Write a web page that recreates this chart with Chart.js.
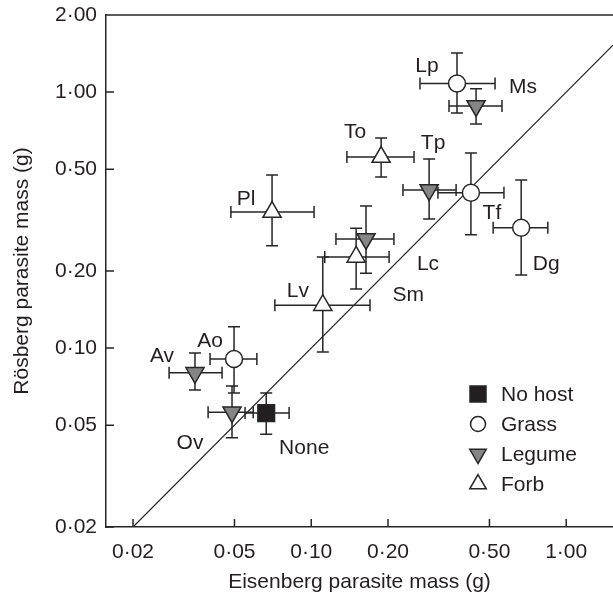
<!DOCTYPE html>
<html>
<head>
<meta charset="utf-8">
<script src="https://cdn.jsdelivr.net/npm/chart.js"></script>
<style>
  html, body { margin: 0; padding: 0; background: #fff; overflow: hidden; }
  #wrap { width: 613px; height: 599px; position: relative; }
  canvas { display: block; }
</style>
</head>
<body>
<div id="wrap"><canvas id="chart"></canvas></div>
<script>
const xTicks = [0.02, 0.05, 0.1, 0.2, 0.5, 1];
const yTicks = [0.02, 0.05, 0.1, 0.2, 0.5, 1, 2];

// no host
const noneNames = ['None'];
const noneX = [0.0666], noneXLo = [0.055], noneXHi = [0.0819];
const noneY = [0.0557], noneYLo = [0.0461], noneYHi = [0.0667];

// grasses
const grassNames = ['Lp', 'Tf', 'Dg', 'Ao'];
const grassX = [0.373, 0.423, 0.666, 0.0498];
const grassXLo = [0.267, 0.314, 0.517, 0.0401];
const grassXHi = [0.526, 0.570, 0.847, 0.0612];
const grassY = [1.08, 0.404, 0.295, 0.0906];
const grassYLo = [0.828, 0.277, 0.193, 0.0667];
const grassYHi = [1.42, 0.578, 0.453, 0.121];

// legumes
const legumeNames = ['Ms', 'Tp', 'Lc', 'Av', 'Ov'];
const legumeX = [0.443, 0.290, 0.164, 0.035, 0.0489];
const legumeXLo = [0.347, 0.229, 0.125, 0.0277, 0.0394];
const legumeXHi = [0.560, 0.370, 0.211, 0.0447, 0.0592];
const legumeY = [0.883, 0.414, 0.267, 0.080, 0.0562];
const legumeYLo = [0.75, 0.319, 0.196, 0.0686, 0.0446];
const legumeYHi = [1.03, 0.548, 0.359, 0.0957, 0.0711];

// forbs
const forbNames = ['To', 'Sm', 'Lv', 'Pl'];
const forbX = [0.188, 0.150, 0.111, 0.0702];
const forbXLo = [0.138, 0.113, 0.072, 0.0484];
const forbXHi = [0.253, 0.202, 0.170, 0.1026];
const forbY = [0.557, 0.227, 0.147, 0.340];
const forbYLo = [0.466, 0.170, 0.0966, 0.251];
const forbYHi = [0.662, 0.294, 0.227, 0.474];

// 1:1 line
const lineX = [0.02, 1.526];

// label placement, pixel offset from the point
const labelOffset = {
  None: [38, 34], Lp: [-30, -18], Tf: [21, 19], Dg: [25, 35], Ao: [-24, -19],
  Ms: [47, -20], Tp: [4, -48], Lc: [62, 24], Av: [-33, -18], Ov: [-42, 30],
  To: [-26, -26], Sm: [52, 37], Lv: [-25, -15], Pl: [-26, -14]
};

const FONT = '"Liberation Sans", Arial, Helvetica, sans-serif';
const dark = '#262626';
const gray = '#858585';

function points(names, x, xLo, xHi, y, yLo, yHi) {
  return names.map((n, i) => ({
    x: x[i], y: y[i], xMin: xLo[i], xMax: xHi[i], yMin: yLo[i], yMax: yHi[i], name: n
  }));
}

const fmt = v => Number(v).toFixed(2).replace('.', '\u00b7');

const errorBars = {
  id: 'errorBars',
  beforeDatasetsDraw(chart) {
    const { ctx, scales: { x, y } } = chart;
    const cap = 6;
    ctx.save();
    ctx.strokeStyle = dark;
    ctx.lineWidth = 1.5;
    chart.data.datasets.forEach(ds => {
      if (!ds.errors) return;
      ds.data.forEach(p => {
        const px = x.getPixelForValue(p.x), py = y.getPixelForValue(p.y);
        const x0 = x.getPixelForValue(p.xMin), x1 = x.getPixelForValue(p.xMax);
        const y0 = y.getPixelForValue(p.yMin), y1 = y.getPixelForValue(p.yMax);
        ctx.beginPath();
        ctx.moveTo(x0, py); ctx.lineTo(x1, py);
        ctx.moveTo(x0, py - cap); ctx.lineTo(x0, py + cap);
        ctx.moveTo(x1, py - cap); ctx.lineTo(x1, py + cap);
        ctx.moveTo(px, y0); ctx.lineTo(px, y1);
        ctx.moveTo(px - cap, y0); ctx.lineTo(px + cap, y0);
        ctx.moveTo(px - cap, y1); ctx.lineTo(px + cap, y1);
        ctx.stroke();
      });
    });
    ctx.restore();
  },
  afterDatasetsDraw(chart) {
    const { ctx, scales: { x, y } } = chart;
    ctx.save();
    ctx.fillStyle = '#231f20';
    ctx.font = '21px ' + FONT;
    ctx.textAlign = 'center';
    ctx.textBaseline = 'middle';
    chart.data.datasets.forEach(ds => {
      if (!ds.errors) return;
      ds.data.forEach(p => {
        const off = labelOffset[p.name] || [0, 0];
        ctx.fillText(p.name, x.getPixelForValue(p.x) + off[0], y.getPixelForValue(p.y) + off[1] + 1);
      });
    });
    ctx.restore();
  },
  afterDraw(chart) {
    const { ctx, chartArea: a, scales: { x, y } } = chart;
    ctx.save();
    ctx.strokeStyle = dark;
    ctx.lineWidth = 1.5;
    ctx.beginPath();
    ctx.moveTo(a.left, a.top); ctx.lineTo(a.right, a.top);
    xTicks.forEach(v => {
      const px = x.getPixelForValue(v);
      ctx.moveTo(px, a.bottom); ctx.lineTo(px, a.bottom - 8);
    });
    yTicks.forEach(v => {
      const py = y.getPixelForValue(v);
      ctx.moveTo(a.left, py); ctx.lineTo(a.left + 8, py);
    });
    ctx.stroke();

    // legend
    const items = [
      ['No host', 'rect', '#231f20'],
      ['Grass', 'circle', '#fff'],
      ['Legume', 'down', gray],
      ['Forb', 'up', '#fff']
    ];
    const lx = 478, ly = 394, step = 30;
    ctx.font = '21px ' + FONT;
    ctx.textAlign = 'left';
    ctx.textBaseline = 'middle';
    items.forEach((it, i) => {
      const cy = ly + i * step;
      ctx.beginPath();
      if (it[1] === 'rect') {
        ctx.rect(lx - 8, cy - 8, 16, 16);
      } else if (it[1] === 'circle') {
        ctx.arc(lx, cy, 7.5, 0, Math.PI * 2);
      } else {
        const s = it[1] === 'up' ? -1 : 1;
        const r = 9.5;
        ctx.moveTo(lx, cy + s * r);
        ctx.lineTo(lx + r * 0.866, cy - s * r * 0.5);
        ctx.lineTo(lx - r * 0.866, cy - s * r * 0.5);
        ctx.closePath();
      }
      ctx.fillStyle = it[2];
      ctx.fill();
      ctx.lineWidth = 1.5;
      ctx.strokeStyle = dark;
      ctx.stroke();
      ctx.fillStyle = '#231f20';
      ctx.fillText(it[0], 501, cy + 1);
    });
    ctx.restore();
  }
};

const markerBase = { borderColor: dark, borderWidth: 1.5, showLine: false, errors: true };

new Chart(document.getElementById('chart'), {
  type: 'scatter',
  data: {
    datasets: [
      Object.assign({}, markerBase, {
        label: 'No host',
        data: points(noneNames, noneX, noneXLo, noneXHi, noneY, noneYLo, noneYHi),
        pointStyle: 'rect', pointRadius: 11.8, backgroundColor: '#231f20', order: 1
      }),
      Object.assign({}, markerBase, {
        label: 'Grass',
        data: points(grassNames, grassX, grassXLo, grassXHi, grassY, grassYLo, grassYHi),
        pointStyle: 'circle', pointRadius: 8.5, backgroundColor: '#fff', order: 1
      }),
      Object.assign({}, markerBase, {
        label: 'Legume',
        data: points(legumeNames, legumeX, legumeXLo, legumeXHi, legumeY, legumeYLo, legumeYHi),
        pointStyle: 'triangle', pointRotation: 180, pointRadius: 10.5, backgroundColor: gray, order: 1
      }),
      Object.assign({}, markerBase, {
        label: 'Forb',
        data: points(forbNames, forbX, forbXLo, forbXHi, forbY, forbYLo, forbYHi),
        pointStyle: 'triangle', pointRadius: 10.5, backgroundColor: '#fff', order: 1
      }),
      {
        type: 'line',
        label: '1:1',
        data: lineX.map(v => ({ x: v, y: v })),
        borderColor: dark, borderWidth: 1.2, pointRadius: 0, fill: false, order: 10
      }
    ]
  },
  options: {
    responsive: true,
    maintainAspectRatio: false,
    animation: false,
    layout: { autoPadding: false, padding: { left: 0, right: 0, top: 15, bottom: 0 } },
    plugins: { legend: { display: false }, tooltip: { enabled: false } },
    scales: {
      x: {
        type: 'logarithmic',
        min: 0.01567, max: 1.526,
        afterBuildTicks: s => { s.ticks = xTicks.map(v => ({ value: v })); },
        afterFit: s => { s.height = 72; s.paddingLeft = 0; s.paddingRight = 0; },
        grid: { display: false, drawTicks: false },
        border: { display: true, color: dark, width: 1.5 },
        ticks: {
          autoSkip: false, maxRotation: 0, padding: 13,
          color: '#231f20', font: { family: FONT, size: 21 },
          callback: v => fmt(v)
        },
        title: {
          display: true, text: 'Eisenberg parasite mass (g)', color: '#231f20',
          font: { family: FONT, size: 21 }, padding: { top: 0, bottom: 4 }
        }
      },
      y: {
        type: 'logarithmic',
        min: 0.02, max: 2,
        afterBuildTicks: s => { s.ticks = yTicks.map(v => ({ value: v })); },
        afterFit: s => { s.width = 106; s.paddingTop = 0; s.paddingBottom = 0; },
        grid: { display: false, drawTicks: false },
        border: { display: true, color: dark, width: 1.5 },
        ticks: {
          autoSkip: false, padding: 9,
          color: '#231f20', font: { family: FONT, size: 21 },
          callback: v => fmt(v)
        },
        title: {
          display: true, text: 'Rösberg parasite mass (g)', color: '#231f20',
          font: { family: FONT, size: 21 }, padding: { top: 10, bottom: 0 }
        }
      }
    }
  },
  plugins: [errorBars]
});
</script>
</body>
</html>
